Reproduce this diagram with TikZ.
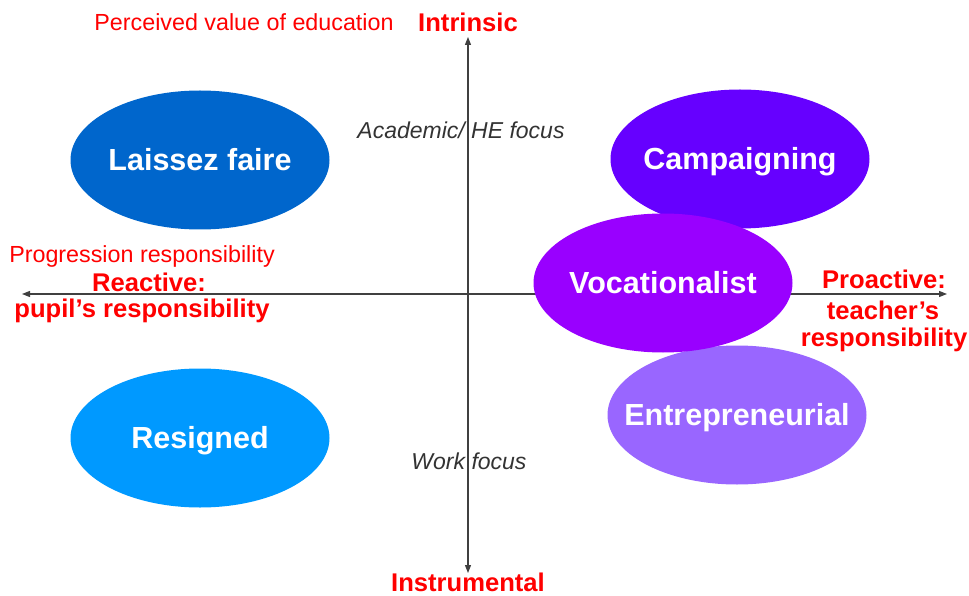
\documentclass[tikz,border=0pt]{standalone}
\usepackage{fontspec}
\setmainfont{Liberation Sans}
\usetikzlibrary{shapes.geometric,arrows.meta}
\definecolor{laissez}{HTML}{0066CC}
\definecolor{resigned}{HTML}{0099FF}
\definecolor{campaign}{HTML}{6600FF}
\definecolor{vocat}{HTML}{9900FF}
\definecolor{entre}{HTML}{9966FF}
\definecolor{axisgray}{HTML}{404040}
\definecolor{italgray}{HTML}{333333}
\definecolor{lblred}{HTML}{FF0000}
\newcommand{\zbox}[1]{\makebox[0pt]{#1}}
\begin{document}
\begin{tikzpicture}[x=1pt,y=-1pt,
  blob/.style={ellipse,minimum width=259pt,minimum height=139pt,inner sep=0pt,text height=21.5pt,text depth=0pt,text=white,font=\fontsize{30.5}{34}\selectfont\bfseries},
  redlbl/.style={text=lblred,inner sep=0pt,font=\fontsize{23.3}{27}\selectfont},
  redbold/.style={text=lblred,inner sep=0pt,font=\fontsize{25.6}{29}\selectfont\bfseries},
  itallbl/.style={text=italgray,inner sep=0pt,font=\fontsize{23}{27}\selectfont\itshape},
  axisline/.style={draw=axisgray,line width=1.2pt,-{Triangle[length=8pt,width=6pt]}}]
\useasboundingbox (0,0) rectangle (969,596);
% axes
\coordinate (vc) at (468,294);
\coordinate (top) at (468,37);
\coordinate (bot) at (468,573);
\coordinate (lft) at (22,294);
\coordinate (rgt) at (947,294);
\draw[axisline] (vc) -- (top);
\draw[axisline] (vc) -- (bot);
\draw[axisline] (vc) -- (lft);
\draw[axisline] (vc) -- (rgt);
% ellipses
\node[blob,fill=laissez] (lf) at (200,160) {\zbox{Laissez faire}};
\node[blob,fill=resigned] (rs) at (200,438) {\zbox{Resigned}};
\node[blob,fill=campaign] (cp) at (740,159) {\zbox{Campaigning}};
\node[blob,fill=entre] (en) at (737,415) {\zbox{Entrepreneurial}};
\node[blob,fill=vocat] (vo) at (663,283) {\zbox{Vocationalist}};
% labels
\node[redlbl] (pv) at (244,22) {Perceived value of education};
\node[redbold] (intr) at (468,22) {Intrinsic};
\node[itallbl] (ac) at (461,130) {Academic/ HE focus};
\node[itallbl] (wf) at (469,461) {Work focus};
\node[redbold] (instr) at (468,582) {Instrumental};
\node[redlbl] (pr) at (142,256) {Progression responsibility};
\node[redbold] (re) at (149,282) {Reactive:};
\node[redbold] (pu) at (142,311) {pupil’s responsibility};
\node[redbold] (pa) at (884,279) {Proactive:};
\node[redbold] (te) at (883,310) {teacher’s};
\node[redbold] (rsp) at (884,340) {responsibility};
\end{tikzpicture}
\end{document}
